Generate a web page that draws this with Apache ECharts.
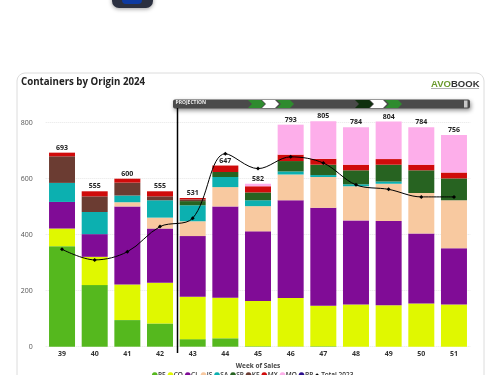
<!DOCTYPE html>
<html>
<head>
<meta charset="utf-8">
<script src="https://cdn.jsdelivr.net/npm/echarts@6/dist/echarts.min.js"></script>
<style>
  html, body { margin: 0; padding: 0; background: #fff; overflow: hidden; }
  #chart { width: 500px; height: 375px; }
</style>
</head>
<body>
<div id="chart"></div>
<script>
const weeks = ['39', '40', '41', '42', '43', '44', '45', '46', '47', '48', '49', '50', '51'];

const PE = [359, 220, 95, 83, 27, 30, 2, 1, 2, 0, 0, 0, 0];
const CO = [63, 101, 127, 145, 151, 145, 161, 173, 144, 151, 148, 154, 151];
const CL = [95, 81, 279, 194, 217, 326, 249, 349, 350, 300, 301, 250, 201];
const IS = [0, 0, 15, 39, 53, 69, 90, 92, 110, 122, 133, 145, 171];
const SA = [68, 79, 24, 62, 57, 36, 21, 11, 7, 7, 8, 0, 0];
const SP = [0, 0, 0, 0, 15, 18, 28, 37, 37, 50, 60, 81, 78];
const KE = [95, 56, 46, 14, 6, 0, 0, 0, 0, 0, 0, 0, 0];
const MX = [13, 18, 14, 18, 5, 23, 22, 23, 21, 20, 20, 20, 21];
const MO = [0, 0, 0, 0, 0, 0, 9, 107, 134, 134, 134, 134, 134];
const BR = [0, 0, 0, 0, 0, 0, 0, 0, 0, 0, 0, 0, 0];

const totals = [693, 555, 600, 555, 531, 647, 582, 793, 805, 784, 804, 784, 756];
const total2023 = [348, 310, 339, 429, 459, 689, 636, 678, 656, 578, 562, 535, 535];

const origins = [
  ['PE', PE, '#55b81e'],
  ['CO', CO, '#e0f800'],
  ['CL', CL, '#800c96'],
  ['IS', IS, '#f8c9a0'],
  ['SA', SA, '#0cb0b0'],
  ['SP', SP, '#276321'],
  ['KE', KE, '#6b3c32'],
  ['MX', MX, '#d00b0b'],
  ['MO', MO, '#fdaeea'],
  ['BR', BR, '#2a0d8c']
];

const font = '"Open Sans", sans-serif';

// chevrons on the projection bar
function chevron(x, w, color) {
  const y0 = 100, y1 = 108, mid = 104;
  return {
    type: 'polygon',
    shape: { points: [[x, y0], [x + w, y0], [x + w + 4, mid], [x + w, y1], [x, y1], [x + 4, mid]] },
    style: { fill: color }
  };
}

const decorations = [
  // dark thing cut off at the top of the page
  {
    type: 'rect',
    shape: { x: 112, y: -20, width: 41, height: 28, r: 7 },
    style: { fill: '#2b3040', shadowBlur: 4, shadowColor: 'rgba(0,0,0,0.4)', shadowOffsetY: 1 }
  },
  { type: 'rect', shape: { x: 122, y: -10, width: 20, height: 14, r: 4 }, style: { fill: '#0d3aa0' } },
  // card
  {
    type: 'rect',
    z: -1,
    shape: { x: 17, y: 73, width: 467, height: 330, r: 8 },
    style: { fill: '#fff', stroke: '#dcdcdc', lineWidth: 1 }
  },
  {
    type: 'text', x: 21, y: 77,
    style: { text: 'Containers by Origin 2024', font: 'bold 9.7px ' + font, fill: '#222' }
  },
  // logo
  {
    type: 'text', x: 431, y: 79,
    style: { text: 'AVO', font: 'bold 9.5px "Liberation Sans"', fill: '#6b9a2e' }
  },
  {
    type: 'text', x: 451, y: 79,
    style: { text: 'BOOK', font: 'bold 9.5px "Liberation Sans"', fill: '#333' }
  },
  { type: 'rect', shape: { x: 431, y: 88, width: 48, height: 0.8 }, style: { fill: '#999' } },
  // projection bar
  {
    type: 'rect',
    shape: { x: 173, y: 99.5, width: 297, height: 9, r: 2 },
    style: { fill: '#4a4a4a', shadowBlur: 4, shadowColor: 'rgba(0,0,0,0.45)', shadowOffsetX: 1, shadowOffsetY: 2 }
  },
  chevron(248, 13, '#2e8b2e'),
  chevron(262, 13, '#ffffff'),
  chevron(277, 13, '#2e8b2e'),
  chevron(355, 14, '#10300f'),
  chevron(370, 13, '#ffffff'),
  chevron(385, 13, '#2e8b2e'),
  { type: 'rect', shape: { x: 464, y: 100.5, width: 3.5, height: 7 }, style: { fill: '#c8c8c8' } },
  {
    type: 'text', x: 175.5, y: 100.5,
    style: { text: 'PROJECTION', font: 'bold 5px ' + font, fill: '#eee' }
  },
  {
    type: 'line', z: 20,
    shape: { x1: 177.5, y1: 108, x2: 177.5, y2: 353 },
    style: { stroke: '#000', lineWidth: 1.5 }
  }
];

const series = origins.map(([name, values, color]) => ({
  name,
  type: 'bar',
  stack: 'origin',
  clip: false,
  barWidth: 26,
  data: values,
  itemStyle: { color }
}));

series.push({
  name: 'Total 2023',
  type: 'line',
  smooth: 0.35,
  clip: false,
  symbol: 'diamond',
  symbolSize: 4,
  data: total2023,
  z: 10,
  itemStyle: { color: '#000' },
  lineStyle: { color: '#000', width: 1 }
});

// invisible line that only carries the total labels
series.push({
  name: 'Total',
  type: 'line',
  clip: false,
  symbol: 'circle',
  symbolSize: 1,
  showSymbol: true,
  data: totals,
  z: 11,
  itemStyle: { color: 'transparent' },
  lineStyle: { opacity: 0 },
  label: {
    show: true,
    position: 'top',
    distance: 1,
    fontFamily: font,
    fontSize: 7,
    fontWeight: 'bold',
    color: '#222'
  }
});

// legend dots sit close to their names, so they are drawn as rich text
const legendRich = { total: { color: '#000', fontSize: 6, fontFamily: 'DejaVu Sans' } };
origins.forEach(([name, , color]) => {
  legendRich['d' + name] = { color, fontSize: 7.5, fontFamily: 'DejaVu Sans' };
});

const chart = echarts.init(document.getElementById('chart'), null, { renderer: 'canvas' });
chart.setOption({
  animation: false,
  backgroundColor: '#fff',
  textStyle: { fontFamily: font },
  graphic: decorations,
  legend: {
    data: origins.map(o => o[0]).concat(['Total 2023']),
    top: 366,
    left: 'center',
    icon: 'none',
    itemWidth: 0,
    itemHeight: 0,
    itemGap: -3.5,
    selectedMode: false,
    formatter: name => name === 'Total 2023' ? '{total|◆} ' + name : '{d' + name + '|●}' + name,
    textStyle: { fontFamily: font, fontSize: 6.5, fontWeight: 600, color: '#333', rich: legendRich }
  },
  grid: { left: 45.7, right: 29.7, top: 122.7, bottom: 28.3 },
  xAxis: {
    type: 'category',
    data: weeks,
    name: 'Week of Sales',
    nameLocation: 'middle',
    nameGap: 15,
    nameTextStyle: { fontFamily: font, fontSize: 6.5, fontWeight: 'bold', color: '#444' },
    axisLine: { show: false },
    axisTick: { show: false },
    axisLabel: { fontFamily: font, fontSize: 7, fontWeight: 'bold', color: '#333', margin: 4 }
  },
  yAxis: {
    type: 'value',
    min: 0,
    max: 800,
    interval: 200,
    axisLine: { show: false },
    axisTick: { show: false },
    axisLabel: { fontFamily: font, fontSize: 7, color: '#555', margin: 13 },
    splitLine: { lineStyle: { color: '#e6e6e6', type: 'dotted', width: 1 } }
  },
  series
});
</script>
</body>
</html>
